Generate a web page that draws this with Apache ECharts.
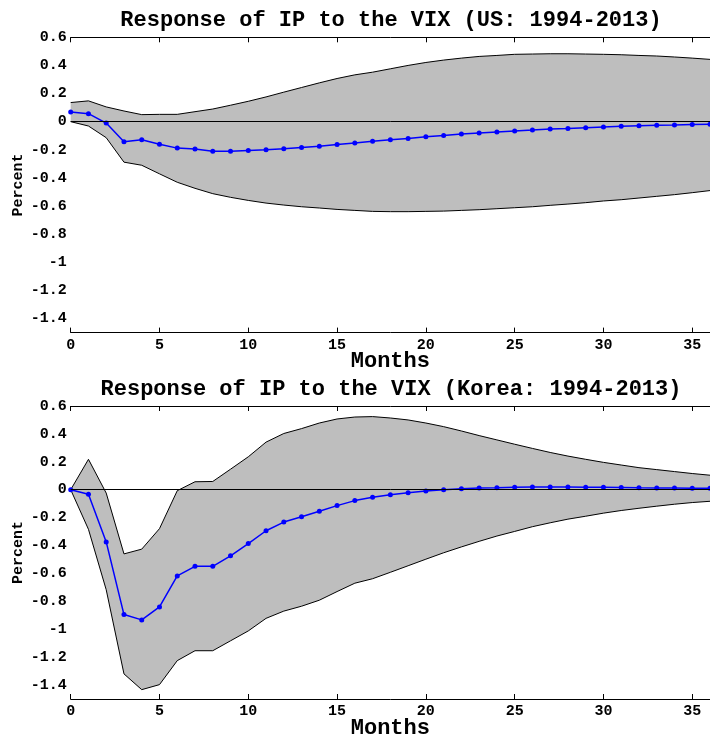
<!DOCTYPE html>
<html>
<head>
<meta charset="utf-8">
<script src="https://cdn.jsdelivr.net/npm/echarts@6/dist/echarts.min.js"></script>
<style>
    html, body {margin: 0; padding: 0; background: #fff;}
    #chart {width: 710px; height: 740px;}
</style>
</head>
<body>
<div id="chart"></div>
<script>
// horizon in months
const months = ['0', '1', '2', '3', '4', '5', '6', '7', '8', '9', '10', '11', '12', '13', '14', '15', '16', '17', '18',
    '19', '20', '21', '22', '23', '24', '25', '26', '27', '28', '29', '30', '31', '32', '33', '34', '35', '36'];
const yTicks = [-1.4, -1.2, -1, -0.8, -0.6, -0.4, -0.2, 0, 0.2, 0.4, 0.6];

const titles = ['Response of IP to the VIX (US: 1994-2013)', 'Response of IP to the VIX (Korea: 1994-2013)'];

// US
const usIrf = [0.069, 0.057, -0.01, -0.143, -0.129, -0.16, -0.188, -0.195, -0.21, -0.21,
    -0.205, -0.2, -0.193, -0.183, -0.174, -0.162, -0.151, -0.14, -0.129, -0.119,
    -0.107, -0.098, -0.088, -0.081, -0.074, -0.067, -0.06, -0.052, -0.048, -0.043,
    -0.038, -0.033, -0.029, -0.026, -0.024, -0.021, -0.019];
const usUpper = [0.136, 0.148, 0.105, 0.076, 0.05, 0.052, 0.052, 0.071, 0.09, 0.117,
    0.145, 0.176, 0.21, 0.243, 0.276, 0.307, 0.333, 0.352, 0.376, 0.4,
    0.421, 0.438, 0.452, 0.464, 0.471, 0.479, 0.481, 0.483, 0.483, 0.481,
    0.479, 0.476, 0.471, 0.467, 0.46, 0.452, 0.443];
const usLower = [0, -0.031, -0.114, -0.288, -0.31, -0.371, -0.431, -0.474, -0.512, -0.538,
    -0.56, -0.579, -0.593, -0.605, -0.614, -0.624, -0.631, -0.638, -0.64, -0.64,
    -0.638, -0.636, -0.631, -0.626, -0.619, -0.612, -0.605, -0.595, -0.586, -0.576,
    -0.564, -0.555, -0.543, -0.531, -0.519, -0.505, -0.49];

// Korea
const krIrf = [0, -0.033, -0.374, -0.895, -0.933, -0.84, -0.618, -0.549, -0.549, -0.474,
    -0.386, -0.294, -0.232, -0.194, -0.154, -0.114, -0.078, -0.054, -0.036, -0.021,
    -0.009, 0, 0.007, 0.012, 0.014, 0.017, 0.019, 0.019, 0.019, 0.018,
    0.017, 0.016, 0.014, 0.013, 0.012, 0.011, 0.01];
const krUpper = [0, 0.218, -0.024, -0.46, -0.426, -0.279, -0.007, 0.057, 0.059, 0.147,
    0.236, 0.341, 0.403, 0.438, 0.478, 0.507, 0.521, 0.524, 0.514, 0.5,
    0.478, 0.452, 0.421, 0.388, 0.357, 0.326, 0.296, 0.267, 0.241, 0.218,
    0.196, 0.177, 0.158, 0.144, 0.13, 0.116, 0.104];
const krLower = [0, -0.284, -0.717, -1.32, -1.433, -1.397, -1.225, -1.154, -1.154, -1.083,
    -1.012, -0.922, -0.87, -0.835, -0.792, -0.73, -0.67, -0.638, -0.592, -0.545,
    -0.498, -0.452, -0.41, -0.37, -0.332, -0.299, -0.265, -0.237, -0.211, -0.19,
    -0.168, -0.149, -0.133, -0.118, -0.104, -0.092, -0.083];

const FONT = 'Liberation Mono';
const gridTops = [37.3, 406];
const gridH = 295.3;
const gridLeft = 70.7;
const plotCenter = 391;

const chart = echarts.init(document.getElementById('chart'));

// label / tick every 5 months, last month (36) left bare
const every5 = idx => idx % 5 === 0;

function panelAxes(i) {
    const xs = [{
        gridIndex: i, type: 'category', data: months, boundaryGap: false,
        name: 'Months', nameLocation: 'middle', nameGap: 18, nameMoveOverlap: false,
        nameTextStyle: {fontFamily: FONT, fontWeight: 'bold', fontSize: 22, color: '#000'},
        axisLine: {onZero: false, lineStyle: {color: '#000', width: 1}},
        axisTick: {inside: true, length: 5, interval: every5, lineStyle: {color: '#000'}},
        axisLabel: {interval: every5, margin: 5, fontFamily: FONT, fontWeight: 'bold', fontSize: 15, color: '#000'},
        splitLine: {show: false}
    }, {
        gridIndex: i, type: 'category', data: months, boundaryGap: false, position: 'top',
        axisLine: {onZero: false, lineStyle: {color: '#000', width: 1}},
        axisTick: {inside: true, length: 5, interval: every5, lineStyle: {color: '#000'}},
        axisLabel: {show: false},
        splitLine: {show: false}
    }];
    const ys = [{
        gridIndex: i, type: 'value', min: -1.5, max: 0.6,
        name: 'Percent', nameLocation: 'middle', nameGap: 45, nameMoveOverlap: false,
        nameTextStyle: {fontFamily: FONT, fontWeight: 'bold', fontSize: 15, color: '#000'},
        axisLine: {onZero: false, lineStyle: {color: '#000', width: 1}},
        axisTick: {inside: true, length: 5, customValues: yTicks, lineStyle: {color: '#000'}},
        axisLabel: {customValues: yTicks, margin: 4, fontFamily: FONT, fontWeight: 'bold', fontSize: 15, color: '#000'},
        splitLine: {show: false}
    }, {
        gridIndex: i, type: 'value', min: -1.5, max: 0.6, position: 'right',
        axisLine: {onZero: false, lineStyle: {color: '#000', width: 1}},
        axisTick: {inside: true, length: 5, customValues: yTicks, lineStyle: {color: '#000'}},
        axisLabel: {show: false},
        splitLine: {show: false}
    }];
    return {xs, ys};
}

function panelSeries(i, irf, upper, lower) {
    const xi = i * 2, yi = i * 2;
    const stackName = 'band' + i;
    return [{
        type: 'line', xAxisIndex: xi, yAxisIndex: yi,
        stack: stackName, stackStrategy: 'all',
        data: lower,
        symbol: 'none', lineStyle: {color: '#000', width: 1}, z: 2, silent: true
    }, {
        type: 'line', xAxisIndex: xi, yAxisIndex: yi,
        stack: stackName, stackStrategy: 'all',
        data: upper.map((u, k) => u - lower[k]),
        symbol: 'none', lineStyle: {color: '#000', width: 1},
        areaStyle: {color: '#bebebe', opacity: 1}, z: 2, silent: true
    }, {
        type: 'line', xAxisIndex: xi, yAxisIndex: yi,
        data: [], z: 3, silent: true,
        markLine: {
            silent: true, symbol: 'none', label: {show: false},
            lineStyle: {color: '#000', width: 1, type: 'solid'},
            data: [{yAxis: 0}]
        }
    }, {
        type: 'line', xAxisIndex: xi, yAxisIndex: yi,
        data: irf,
        symbol: 'circle', symbolSize: 5, showAllSymbol: true,
        lineStyle: {color: '#0000ff', width: 1.5},
        itemStyle: {color: '#0000ff'}, z: 4, silent: true
    }];
}

const a0 = panelAxes(0), a1 = panelAxes(1);

const option = {
    animation: false,
    backgroundColor: '#fff',
    title: titles.map((t, i) => ({
        text: t, left: plotCenter, top: gridTops[i] - 28, textAlign: 'center', padding: 0,
        textStyle: {fontFamily: FONT, fontWeight: 'bold', fontSize: 22, color: '#000'}
    })),
    grid: gridTops.map(t => ({left: gridLeft, right: -2, top: t, height: gridH, containLabel: false})),
    xAxis: a0.xs.concat(a1.xs),
    yAxis: a0.ys.concat(a1.ys),
    series: panelSeries(0, usIrf, usUpper, usLower).concat(panelSeries(1, krIrf, krUpper, krLower))
};

chart.setOption(option);
</script>
</body>
</html>
